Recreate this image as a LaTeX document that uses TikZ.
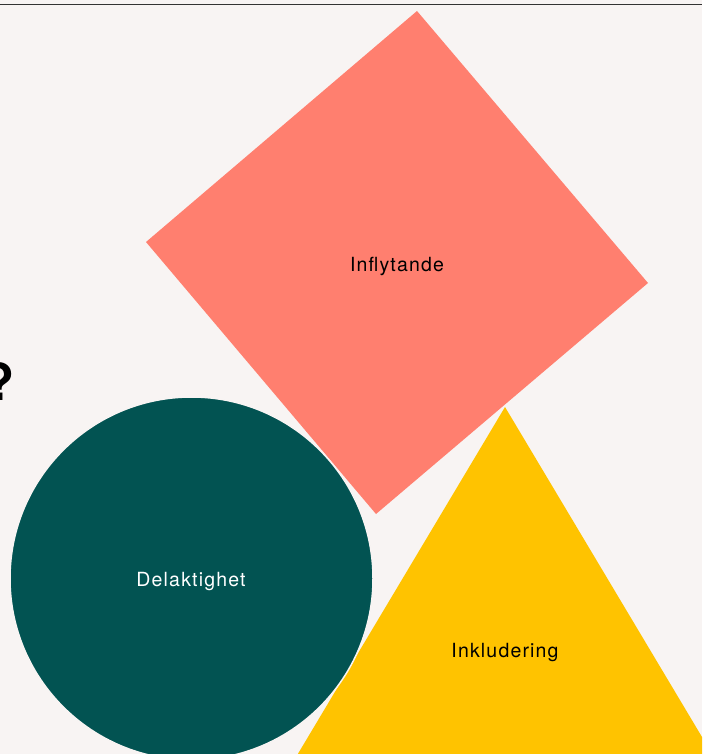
\documentclass[tikz,border=0pt]{standalone}
\usepackage{fontspec}
\setmainfont{TeX Gyre Heros}
\definecolor{bg}{HTML}{F8F4F3}
\definecolor{salmon}{HTML}{FF7F6F}
\definecolor{teal}{HTML}{025352}
\definecolor{gold}{HTML}{FFC300}
\tikzset{
  lbl/.style={font=\fontsize{19.5}{21}\selectfont\addfontfeatures{LetterSpace=6}, inner sep=0pt, anchor=center},
}
\begin{document}
\begin{tikzpicture}[x=1pt,y=-1pt]
\useasboundingbox (0,0) rectangle (702,754);
\fill[bg] (0,0) rectangle (702,754);
\begin{scope}
\clip (0,0) rectangle (702,754);
\draw[black!80, line width=1pt] (0,4.5) -- (702,4.5);
% square
\fill[salmon] (417,11) -- (648,283) -- (376,514) -- (146,242) -- cycle;
% triangle
\fill[gold] (505,407) -- (505+0.597*400,807) -- (505-0.597*400,807) -- cycle;
% circle
\fill[teal, draw=bg, line width=1.5pt] (191.5,578.5) circle (181.5);
% question mark
\node[font=\fontsize{51}{55}\selectfont\bfseries, inner sep=0pt, anchor=base east] (q) at (15,400) {?};
\end{scope}
\node[lbl, text=black] (a) at (397,266) {Inflytande};
\node[lbl, text=white] (b) at (191,582) {Delaktighet};
\node[lbl, text=black] (c) at (505,653) {Inkludering};
\end{tikzpicture}
\end{document}
